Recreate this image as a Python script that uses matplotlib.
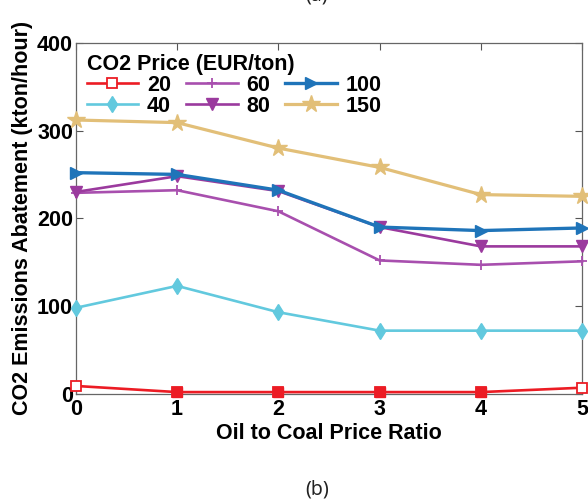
import matplotlib
matplotlib.use("Agg")
import matplotlib.pyplot as plt

# oil to coal price ratio
ratio = [0, 1, 2, 3, 4, 5]

# CO2 emissions abatement (kton/hour) per CO2 price
abate_20 = [9, 2, 2, 2, 2, 7]
abate_40 = [98, 123, 93, 72, 72, 72]
abate_60 = [229, 232, 208, 152, 147, 151]
abate_80 = [230, 248, 231, 190, 168, 168]
abate_100 = [252, 250, 232, 190, 186, 189]
abate_150 = [312, 309, 280, 258, 227, 225]

xticks = [0, 1, 2, 3, 4, 5]
yticks = [0, 100, 200, 300, 400]

plt.rcParams['font.family'] = ['Liberation Sans', 'DejaVu Sans']
fs = 15.5

fig = plt.figure(figsize=(5.88, 5.03), dpi=100)
ax = fig.add_axes([0.129, 0.217, 0.861, 0.698])

lw = 1.9
ms = 7
ax.plot(ratio, abate_20, color='#ec1c24', lw=lw, marker='s', ms=ms, mfc='white', mew=1.3, clip_on=False, zorder=5, label='20')
ax.plot(ratio, abate_20, color='#ec1c24', lw=0, marker='s', ms=ms, markevery=[1, 2, 3, 4], clip_on=False, zorder=6)
ax.plot(ratio, abate_40, color='#62c9de', lw=lw, marker='d', ms=ms + 1, clip_on=False, zorder=5, label='40')
ax.plot(ratio, abate_60, color='#a84fae', lw=lw, marker='+', ms=ms, mew=1.3, clip_on=False, zorder=5, label='60')
ax.plot(ratio, abate_80, color='#9b3a9e', lw=lw, marker='v', ms=ms + 1, clip_on=False, zorder=5, label='80')
ax.plot(ratio, abate_100, color='#1f74b9', lw=lw + 0.5, marker='>', ms=ms + 2, clip_on=False, zorder=5, label='100')
ax.plot(ratio, abate_150, color='#e2bf78', lw=lw + 0.4, marker='*', ms=ms + 6, clip_on=False, zorder=5, label='150')

ax.set_xlim(0, 5)
ax.set_ylim(0, 400)
ax.set_xticks(xticks)
ax.set_yticks(yticks)
ax.tick_params(direction='in', top=True, right=True, length=5, width=0.8,
               color='#555555', labelsize=fs, pad=2)
ax.tick_params(axis='x', pad=4)
for lbl in ax.get_xticklabels() + ax.get_yticklabels():
    lbl.set_fontweight('bold')
for sp in ax.spines.values():
    sp.set_color('#666666')
    sp.set_linewidth(0.9)

ax.set_xlabel('Oil to Coal Price Ratio', fontsize=fs, fontweight='bold', labelpad=2)
ax.set_ylabel('CO2 Emissions Abatement (kton/hour)', fontsize=fs, fontweight='bold', labelpad=3)

leg = ax.legend(ncol=3, loc='upper left', frameon=False, title='CO2 Price (EUR/ton)',
                prop={'size': fs, 'weight': 'bold'}, handlelength=2.4,
                columnspacing=0.7, handletextpad=0.4, labelspacing=0.0,
                borderaxespad=0.2, borderpad=0.3)
leg.get_title().set_fontsize(fs)
leg.get_title().set_fontweight('bold')
leg._legend_box.align = 'left'

fig.text(0.54, 0.026, '(b)', ha='center', va='center', fontsize=14, color='#222222',
         family=['Noto Sans', 'DejaVu Sans'])
fig.text(0.538, 1.0, '(a)', ha='center', va='baseline', fontsize=14, color='#222222',
         family=['Noto Sans', 'DejaVu Sans'])

fig.savefig('out.png', dpi=100)
